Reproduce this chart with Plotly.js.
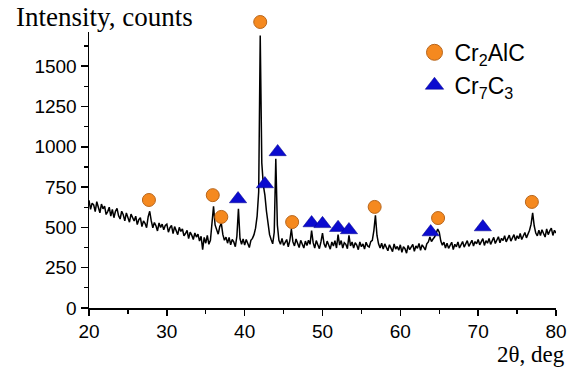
<!DOCTYPE html>
<html>
<head>
<meta charset="utf-8">
<script src="https://cdn.plot.ly/plotly-3.0.1.min.js"></script>
<style>
html,body{margin:0;padding:0;background:#fff;}
#chart{width:577px;height:380px;}
</style>
</head>
<body>
<div id="chart"></div>
<script>
// 2-theta scan: start angle and step (degrees)
var scanStart = 20.0;
var scanStep = 0.2;
// intensity (counts), one value per step from 20.0 to 80.0 deg
var intensity = [
  668,612,650,640,598,660,625,590,645,615,
  632,580,598,625,570,612,560,600,618,572,
  552,600,578,540,590,556,532,582,560,540,
  570,518,548,560,505,540,525,498,565,600,
  540,498,530,510,478,528,500,520,485,512,
  520,470,498,512,462,505,480,455,500,475,
  490,448,462,482,430,470,452,425,465,440,
  458,415,445,362,438,402,450,395,420,520,
  630,515,478,458,505,525,455,420,440,402,
  438,392,425,410,380,445,615,430,395,428,
  390,425,400,375,420,432,455,495,570,720,
  1690,900,760,700,600,520,455,425,398,470,
  925,515,420,395,432,388,412,425,380,418,
  490,410,385,428,402,375,420,398,372,415,
  388,420,395,480,405,372,418,392,368,410,
  465,398,375,415,392,365,410,385,418,372,
  455,390,418,372,405,395,368,450,385,410,
  372,405,390,362,410,380,398,365,408,385,
  378,412,420,480,575,450,398,372,402,365,
  398,372,355,392,375,350,398,365,382,358,
  392,345,380,368,340,388,362,378,395,352,
  385,370,400,358,392,378,360,398,410,440,
  412,428,440,462,490,470,415,390,408,372,
  402,370,385,408,362,395,380,410,372,398,
  412,378,395,418,382,405,420,385,412,398,
  425,392,410,430,388,418,402,432,395,420,
  438,400,425,442,405,432,418,448,410,435,
  452,415,440,455,418,448,430,462,425,450,
  468,435,460,482,520,590,510,465,448,482,
  450,485,462,440,490,455,478,495,450,482,
  465
];
// Cr2AlC peak markers
var cr2alcAngle = [27.7, 35.9, 37.0, 42.0, 46.1, 56.7, 64.85, 76.9];
var cr2alcLevel = [670, 700, 565, 1774, 533, 627, 558, 658];
// Cr7C3 peak markers
var cr7c3Angle = [39.15, 42.6, 44.24, 48.6, 50.0, 52.0, 53.4, 63.9, 70.6];
var cr7c3Level = [676, 769, 968, 527, 522, 498, 484, 471, 502];
// labels
var seriesNames = ['Cr<sub>2</sub>AlC', 'Cr<sub>7</sub>C<sub>3</sub>'];
var yTitle = 'Intensity, counts';
var xTitle = '2θ, deg';
var yMax = 1712;

var angle = intensity.map(function(v, i){ return +(scanStart + i*scanStep).toFixed(2); });

// plot area: main axis occupies lower part; marker axis uses same scale but taller domain
var mainDomainTop = 276 / 298;

var orange = '#F5891F', orangeEdge = '#B8661C';
var blue = '#0B0BCF', blueEdge = '#00008A';

var traces = [
  {x: angle, y: intensity, type: 'scatter', mode: 'lines',
   line: {color: '#000', width: 1.5}, showlegend: false, hoverinfo: 'skip'},
  {x: cr2alcAngle, y: cr2alcLevel, yaxis: 'y2', type: 'scatter', mode: 'markers', cliponaxis: false,
   marker: {symbol: 'circle', size: 13, color: orange, line: {color: orangeEdge, width: 1}},
   showlegend: false},
  {x: cr7c3Angle, y: cr7c3Level, yaxis: 'y2', type: 'scatter', mode: 'markers', cliponaxis: false,
   marker: {symbol: 'triangle-up', size: 15, color: blue, line: {color: blueEdge, width: 0.5}},
   showlegend: false},
  {x: [null], y: [null], type: 'scatter', mode: 'markers', name: seriesNames[0],
   marker: {symbol: 'circle', size: 16, color: orange, line: {color: orangeEdge, width: 1}}},
  {x: [null], y: [null], type: 'scatter', mode: 'markers', name: seriesNames[1],
   marker: {symbol: 'triangle-up', size: 16, color: blue, line: {color: blueEdge, width: 0.5}}}
];

var tickFont = {family: '"Liberation Sans", Arial, sans-serif', size: 19, color: '#000'};
var layout = {
  width: 577, height: 380,
  margin: {l: 89, r: 21, t: 10, b: 72, pad: 0},
  paper_bgcolor: '#fff', plot_bgcolor: 'rgba(0,0,0,0)',
  showlegend: true,
  legend: {x: 0.697, y: 0.93, xanchor: 'left', yanchor: 'top', bgcolor: 'rgba(0,0,0,0)',
           font: {family: '"Liberation Sans", Arial, sans-serif', size: 23, color: '#000'},
           itemsizing: 'trace', tracegroupgap: 0},
  xaxis: {range: [20, 80], showline: true, linecolor: '#000', linewidth: 1.5,
          showgrid: false, zeroline: false, ticks: 'outside', ticklen: 6, tickwidth: 1.5,
          tickcolor: '#000', dtick: 10, tick0: 20, tickfont: tickFont,
          minor: {dtick: 5, tick0: 20, ticks: 'outside', ticklen: 4, tickwidth: 1.2, tickcolor: '#000', showgrid: false}},
  yaxis: {range: [0, yMax], domain: [0, mainDomainTop], showline: true, linecolor: '#000', linewidth: 1.5,
          showgrid: false, zeroline: false, ticks: 'outside', ticklen: 7, tickwidth: 1.5,
          tickcolor: '#000', dtick: 250, tick0: 0, tickfont: tickFont,
          minor: {dtick: 125, tick0: 0, ticks: 'outside', ticklen: 4, tickwidth: 1.2, tickcolor: '#000', showgrid: false}},
  yaxis2: {range: [0, yMax / mainDomainTop], domain: [0, 1], anchor: 'x', visible: false,
           showgrid: false, zeroline: false},
  annotations: [
    {text: yTitle, xref: 'paper', yref: 'paper', x: -0.16, y: 0.977, xanchor: 'left', yanchor: 'middle',
     showarrow: false, font: {family: '"Liberation Serif", "Times New Roman", serif', size: 27, color: '#000'}},
    {text: xTitle, xref: 'paper', yref: 'paper', x: 1.024, y: -0.155, xanchor: 'right', yanchor: 'middle',
     showarrow: false, font: {family: '"Liberation Serif", "Times New Roman", serif', size: 23, color: '#000'}}
  ]
};

Plotly.newPlot('chart', traces, layout, {displayModeBar: false, staticPlot: true});
</script>
</body>
</html>
